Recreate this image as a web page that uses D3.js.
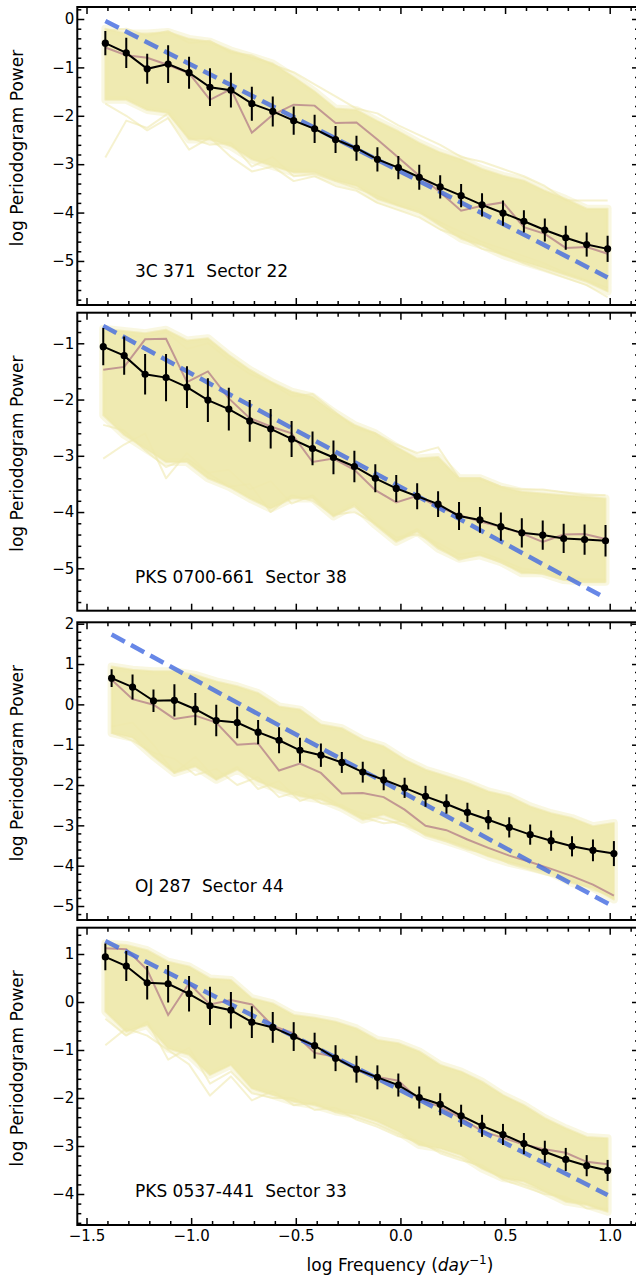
<!DOCTYPE html>
<html>
<head>
<meta charset="utf-8">
<script src="https://cdn.jsdelivr.net/npm/d3@7"></script>
<style>
  body { margin: 0; background: #fff; }
  svg { display: block; }
  text { font-family: "DejaVu Sans", sans-serif; fill: #000; }
</style>
</head>
<body>
<div id="my_dataviz"></div>
<script>
// ---- data ----
const xTicks = [-1.5, -1.0, -0.5, 0.0, 0.5, 1.0];

// 3C 371  Sector 22
const freq1 = [-1.41,-1.31,-1.21,-1.11,-1.01,-0.91,-0.81,-0.71,-0.61,-0.51,-0.41,-0.31,-0.21,-0.11,-0.01,0.09,0.19,0.29,0.39,0.49,0.59,0.69,0.79,0.89,0.99];
const mean1 = [-0.50,-0.70,-1.03,-0.93,-1.11,-1.41,-1.47,-1.75,-1.91,-2.10,-2.27,-2.49,-2.67,-2.90,-3.07,-3.27,-3.47,-3.65,-3.84,-4.01,-4.18,-4.36,-4.52,-4.66,-4.75];
const err1  = [0.25,0.31,0.31,0.39,0.33,0.39,0.36,0.35,0.31,0.29,0.29,0.28,0.26,0.25,0.24,0.26,0.24,0.24,0.24,0.26,0.23,0.24,0.25,0.25,0.27];
const obs1  = [-0.59,-0.75,-0.80,-0.95,-1.12,-1.67,-1.45,-2.35,-1.98,-1.77,-1.79,-2.15,-2.14,-2.49,-2.86,-3.24,-3.58,-3.96,-3.86,-3.79,-4.30,-4.44,-4.73,-4.71,-4.85];
const fit1  = [-0.04, -5.34];
const hi1   = [-0.20,-0.30,-0.30,-0.27,-0.41,-0.47,-0.65,-0.78,-0.92,-1.20,-1.50,-1.85,-1.88,-2.11,-2.32,-2.56,-2.76,-2.90,-3.10,-3.24,-3.34,-3.55,-3.72,-3.92,-3.92];
const lo1   = [-1.67,-1.67,-1.88,-1.94,-2.49,-2.49,-2.63,-2.90,-3.04,-3.17,-3.17,-3.34,-3.45,-3.72,-3.86,-3.99,-4.27,-4.54,-4.68,-4.88,-5.02,-5.15,-5.29,-5.43,-5.63];
const simA1 = [-2.86,-2.10,-2.25,-1.95,-2.45,-2.60,-2.55,-3.05,-2.85,-3.25,-3.20,-3.35,-3.50,-3.65,-3.85,-4.00,-4.20,-4.40,-4.60,-4.75,-4.90,-5.05,-5.25,-5.40,-5.55];
const simB1 = [-1.75,-2.00,-2.30,-2.05,-2.70,-2.45,-2.85,-3.15,-3.05,-3.35,-3.25,-3.45,-3.55,-3.80,-3.95,-4.10,-4.35,-4.50,-4.75,-4.85,-5.05,-5.20,-5.35,-5.50,-5.75];
const simC1 = [-0.25,-0.20,-0.35,-0.25,-0.50,-0.45,-0.70,-0.75,-0.95,-1.10,-1.35,-1.60,-1.85,-1.95,-2.20,-2.40,-2.60,-2.85,-2.95,-3.10,-3.25,-3.45,-3.75,-3.75,-3.75];
const yTicks1 = [0,-1,-2,-3,-4,-5];

// PKS 0700-661  Sector 38
const freq2 = [-1.42,-1.32,-1.22,-1.12,-1.02,-0.92,-0.82,-0.72,-0.62,-0.52,-0.42,-0.32,-0.22,-0.12,-0.02,0.08,0.18,0.28,0.38,0.48,0.58,0.68,0.78,0.88,0.98];
const mean2 = [-1.06,-1.22,-1.55,-1.61,-1.78,-2.01,-2.17,-2.38,-2.52,-2.70,-2.87,-3.03,-3.19,-3.40,-3.58,-3.72,-3.86,-4.07,-4.14,-4.26,-4.37,-4.41,-4.47,-4.49,-4.51];
const err2  = [0.33,0.34,0.36,0.42,0.37,0.39,0.38,0.37,0.35,0.32,0.30,0.30,0.28,0.25,0.24,0.23,0.23,0.25,0.23,0.25,0.26,0.26,0.26,0.27,0.28];
const obs2  = [-1.47,-1.42,-0.93,-0.92,-1.69,-1.50,-1.98,-2.33,-2.48,-2.60,-3.11,-3.05,-3.25,-3.61,-3.83,-3.71,-3.91,-4.05,-4.17,-4.26,-4.38,-4.53,-4.40,-4.39,-4.48];
const fit2  = [-0.69, -5.53];
const hi2   = [-0.74,-0.78,-0.82,-0.76,-0.95,-0.91,-1.21,-1.47,-1.68,-1.86,-1.95,-2.22,-2.45,-2.60,-2.84,-3.05,-3.02,-3.40,-3.40,-3.55,-3.64,-3.67,-3.70,-3.73,-3.76];
const lo2   = [-2.28,-2.63,-2.87,-3.11,-3.11,-3.40,-3.55,-3.76,-3.94,-3.76,-3.76,-4.08,-3.88,-4.23,-4.53,-4.35,-4.65,-4.83,-4.77,-4.89,-5.09,-5.09,-5.21,-5.24,-5.24];
const simA2 = [-3.05,-2.80,-2.60,-3.40,-2.95,-3.30,-3.25,-3.60,-3.45,-3.85,-3.70,-4.05,-3.90,-4.20,-4.50,-4.30,-4.60,-4.85,-4.75,-4.90,-5.05,-5.10,-5.20,-5.25,-5.25];
const simB2 = [-2.45,-2.55,-2.90,-3.20,-3.05,-3.30,-3.55,-3.50,-4.00,-3.70,-3.80,-4.05,-4.00,-4.20,-4.45,-4.40,-4.55,-4.75,-4.70,-4.85,-5.00,-5.05,-5.15,-5.20,-5.20];
const simC2 = [-0.80,-0.85,-0.90,-0.80,-1.10,-1.00,-1.30,-1.55,-1.70,-1.95,-1.90,-2.20,-2.50,-2.60,-2.80,-2.95,-2.85,-3.40,-3.40,-3.55,-3.60,-3.60,-3.65,-3.70,-3.70];
const yTicks2 = [-1,-2,-3,-4,-5];

// OJ 287  Sector 44
const freq3 = [-1.38,-1.28,-1.18,-1.08,-0.98,-0.88,-0.78,-0.68,-0.58,-0.48,-0.38,-0.28,-0.18,-0.08,0.02,0.12,0.22,0.32,0.42,0.52,0.62,0.72,0.82,0.92,1.02];
const mean3 = [0.65,0.43,0.09,0.10,-0.12,-0.40,-0.45,-0.69,-0.89,-1.14,-1.26,-1.44,-1.68,-1.87,-2.07,-2.28,-2.47,-2.68,-2.86,-3.05,-3.23,-3.38,-3.52,-3.62,-3.70];
const err3  = [0.22,0.31,0.28,0.40,0.40,0.39,0.39,0.30,0.32,0.31,0.29,0.26,0.26,0.26,0.25,0.26,0.24,0.24,0.24,0.25,0.25,0.25,0.25,0.27,0.31];
const obs3  = [0.61,0.13,-0.01,-0.36,-0.28,-0.45,-1.00,-0.97,-1.64,-1.47,-1.70,-2.21,-2.20,-2.30,-2.61,-3.01,-3.12,-3.35,-3.56,-3.75,-3.91,-4.08,-4.26,-4.47,-4.74];
const fit3  = [1.73, -5.02];
const hi3   = [0.94,0.86,0.82,0.82,0.73,0.57,0.45,0.28,-0.05,-0.13,-0.50,-0.59,-0.88,-1.04,-1.37,-1.62,-1.78,-1.95,-2.16,-2.28,-2.53,-2.70,-2.82,-3.02,-2.94];
const lo3   = [-0.71,-0.83,-1.29,-1.70,-1.54,-1.87,-1.62,-1.91,-2.11,-2.28,-2.36,-2.57,-2.86,-2.73,-2.94,-3.23,-3.39,-3.56,-3.77,-3.93,-4.05,-4.18,-4.43,-4.55,-4.84];
const simA3 = [-0.55,-0.45,-1.00,-1.70,-1.30,-1.85,-1.55,-2.10,-1.90,-2.40,-2.20,-2.55,-2.70,-2.85,-3.00,-3.20,-3.35,-3.55,-3.75,-3.90,-4.05,-4.20,-4.40,-4.55,-4.80];
const simB3 = [-0.70,-0.90,-1.20,-1.35,-1.75,-1.60,-2.00,-1.80,-2.30,-2.15,-2.45,-2.50,-2.80,-2.95,-2.90,-3.25,-3.40,-3.60,-3.70,-3.95,-4.10,-4.25,-4.35,-4.60,-4.75];
const yTicks3 = [2,1,0,-1,-2,-3,-4,-5];

// PKS 0537-441  Sector 33
const freq4 = [-1.41,-1.31,-1.21,-1.11,-1.01,-0.91,-0.81,-0.71,-0.61,-0.51,-0.41,-0.31,-0.21,-0.11,-0.01,0.09,0.19,0.29,0.39,0.49,0.59,0.69,0.79,0.89,0.99];
const mean4 = [0.94,0.75,0.40,0.38,0.17,-0.08,-0.17,-0.42,-0.53,-0.72,-0.91,-1.17,-1.40,-1.57,-1.73,-1.99,-2.13,-2.37,-2.58,-2.76,-2.95,-3.12,-3.28,-3.41,-3.51];
const err4  = [0.28,0.31,0.35,0.39,0.37,0.40,0.38,0.33,0.32,0.30,0.27,0.27,0.28,0.25,0.24,0.23,0.23,0.23,0.23,0.22,0.22,0.23,0.24,0.22,0.22];
const obs4  = [1.12,1.10,0.67,-0.27,0.39,-0.05,0.04,-0.05,-0.50,-0.65,-1.06,-1.14,-1.42,-1.56,-1.64,-2.04,-2.18,-2.42,-2.69,-2.83,-2.97,-3.07,-3.14,-3.33,-3.38];
const fit4  = [1.27, -4.02];
const hi4   = [1.22,1.19,1.08,0.84,0.74,0.49,0.46,0.08,-0.03,-0.27,-0.33,-0.41,-0.55,-0.79,-0.86,-1.03,-1.31,-1.45,-1.66,-1.94,-2.15,-2.42,-2.63,-2.81,-2.84];
const lo4   = [-0.20,-0.62,-0.48,-0.97,-1.10,-1.52,-1.31,-1.80,-1.94,-2.08,-2.15,-2.28,-2.35,-2.49,-2.70,-2.98,-3.05,-3.19,-3.47,-3.67,-3.74,-3.95,-4.16,-4.23,-4.37];
const simA4 = [-0.90,-0.55,-0.70,-1.00,-1.30,-1.95,-1.55,-2.05,-1.85,-2.15,-2.10,-2.30,-2.40,-2.55,-2.75,-2.95,-3.10,-3.25,-3.45,-3.65,-3.80,-3.95,-4.10,-4.20,-4.35];
const simB4 = [-0.35,-0.70,-0.40,-1.20,-0.95,-1.70,-1.45,-1.90,-2.00,-2.00,-2.25,-2.20,-2.45,-2.60,-2.80,-2.90,-3.15,-3.30,-3.40,-3.70,-3.85,-4.00,-4.05,-4.30,-4.30];
const yTicks4 = [1,0,-1,-2,-3,-4];

// ---- layout ----
const W = 636, H = 1276;
const left = 77.3, right = 639;

const panels = [
  {label: "3C 371  Sector 22", freq: freq1, mean: mean1, err: err1, obs: obs1, fit: fit1, hi: hi1, lo: lo1,
   sims: [simA1, simB1, simC1], ticks: yTicks1, top: 7, bottom: 305, ydom: [-5.91, 0.248]},
  {label: "PKS 0700-661  Sector 38", freq: freq2, mean: mean2, err: err2, obs: obs2, fit: fit2, hi: hi2, lo: lo2,
   sims: [simA2, simB2, simC2], ticks: yTicks2, top: 312.7, bottom: 610.7, ydom: [-5.754, -0.456]},
  {label: "OJ 287  Sector 44", freq: freq3, mean: mean3, err: err3, obs: obs3, fit: fit3, hi: hi3, lo: lo3,
   sims: [simA3, simB3], ticks: yTicks3, top: 622.3, bottom: 920, ydom: [-5.347, 2.035]},
  {label: "PKS 0537-441  Sector 33", freq: freq4, mean: mean4, err: err4, obs: obs4, fit: fit4, hi: hi4, lo: lo4,
   sims: [simA4, simB4], ticks: yTicks4, top: 927.7, bottom: 1225, ydom: [-4.646, 1.548]}
];

const svg = d3.select("#my_dataviz")
  .append("svg")
    .attr("width", W)
    .attr("height", H);

const x = d3.scaleLinear().domain([-1.544, 1.14]).range([left, right]);
const xMinor = d3.range(-15, 12).map(k => k / 10).filter(v => Math.abs(v * 2 - Math.round(v * 2)) > 1e-6);

function minorTicks(dom) {
  const out = [];
  for (let k = Math.ceil(dom[0] * 5); k <= Math.floor(dom[1] * 5); k++) {
    if (k % 5 !== 0) out.push(k / 5);
  }
  return out;
}

panels.forEach(function(p, pi) {
  const y = d3.scaleLinear().domain(p.ydom).range([p.bottom, p.top]);
  const g = svg.append("g");

  const clipId = "clip" + pi;
  g.append("clipPath").attr("id", clipId)
    .append("rect")
      .attr("x", left).attr("y", p.top)
      .attr("width", right - left).attr("height", p.bottom - p.top);

  const plot = g.append("g").attr("clip-path", `url(#${clipId})`);

  const rows = p.freq.map((f, i) => ({f: f, m: p.mean[i], e: p.err[i], o: p.obs[i], hi: p.hi[i], lo: p.lo[i]}));
  const bandArea = d3.area().x(d => x(d.f)).y0(d => y(d.lo)).y1(d => y(d.hi));

  // faint simulated periodograms
  p.sims.forEach(function(s) {
    plot.append("path")
      .datum(s)
      .attr("fill", "none")
      .attr("stroke", "#EEE8AA")
      .attr("stroke-opacity", 0.55)
      .attr("stroke-width", 2)
      .attr("stroke-linejoin", "round")
      .attr("d", d3.line().x((d, i) => x(p.freq[i])).y(d => y(d)));
  });

  // soft fringe round the band
  plot.append("path")
    .datum(rows)
    .attr("fill", "none")
    .attr("stroke", "#EEE8AA")
    .attr("stroke-opacity", 0.35)
    .attr("stroke-width", 8)
    .attr("stroke-linejoin", "round")
    .attr("d", bandArea);

  // dense band of simulated periodograms
  plot.append("path")
    .datum(rows)
    .attr("fill", "#EEE8AA")
    .attr("fill-opacity", 0.92)
    .attr("stroke", "#EEE8AA")
    .attr("stroke-opacity", 0.6)
    .attr("stroke-width", 2)
    .attr("stroke-linejoin", "round")
    .attr("d", bandArea);

  // observed periodogram
  plot.append("path")
    .datum(rows)
    .attr("fill", "none")
    .attr("stroke", "#BC8F8F")
    .attr("stroke-opacity", 0.9)
    .attr("stroke-width", 2)
    .attr("d", d3.line().x(d => x(d.f)).y(d => y(d.o)));

  // power-law fit
  plot.append("line")
    .attr("x1", x(p.freq[0])).attr("y1", y(p.fit[0]))
    .attr("x2", x(p.freq[p.freq.length - 1])).attr("y2", y(p.fit[1]))
    .attr("stroke", "royalblue")
    .attr("stroke-opacity", 0.8)
    .attr("stroke-width", 4.5)
    .attr("stroke-dasharray", "15,7");

  // mean with error bars
  plot.append("g").selectAll("line")
    .data(rows)
    .join("line")
      .attr("x1", d => x(d.f)).attr("x2", d => x(d.f))
      .attr("y1", d => y(d.m - d.e)).attr("y2", d => y(d.m + d.e))
      .attr("stroke", "black")
      .attr("stroke-width", 2);

  plot.append("path")
    .datum(rows)
    .attr("fill", "none")
    .attr("stroke", "black")
    .attr("stroke-width", 2)
    .attr("d", d3.line().x(d => x(d.f)).y(d => y(d.m)));

  plot.append("g").selectAll("circle")
    .data(rows)
    .join("circle")
      .attr("cx", d => x(d.f))
      .attr("cy", d => y(d.m))
      .attr("r", 3.6)
      .attr("fill", "black");

  // axes, ticks pointing inward on all four sides
  const isLast = pi === panels.length - 1;
  const yMinor = minorTicks(p.ydom);

  g.append("g").attr("transform", `translate(${left},0)`)
    .call(d3.axisLeft(y).tickValues(p.ticks).tickFormat(d3.format("d")).tickSizeInner(-7).tickSizeOuter(0).tickPadding(3))
    .call(a => a.selectAll("text").attr("font-size", 15).style("font-family", "DejaVu Sans"));
  g.append("g").attr("transform", `translate(${left},0)`)
    .call(d3.axisLeft(y).tickValues(yMinor).tickFormat("").tickSizeInner(-4).tickSizeOuter(0));
  g.append("g").attr("transform", `translate(${right},0)`)
    .call(d3.axisRight(y).tickValues(p.ticks).tickFormat("").tickSizeInner(-7).tickSizeOuter(0));
  g.append("g").attr("transform", `translate(${right},0)`)
    .call(d3.axisRight(y).tickValues(yMinor).tickFormat("").tickSizeInner(-4).tickSizeOuter(0));

  g.append("g").attr("transform", `translate(0,${p.top})`)
    .call(d3.axisTop(x).tickValues(xTicks).tickFormat("").tickSizeInner(-7).tickSizeOuter(0));
  g.append("g").attr("transform", `translate(0,${p.top})`)
    .call(d3.axisTop(x).tickValues(xMinor).tickFormat("").tickSizeInner(-4).tickSizeOuter(0));
  g.append("g").attr("transform", `translate(0,${p.bottom})`)
    .call(d3.axisBottom(x).tickValues(xTicks).tickFormat(isLast ? d3.format(".1f") : "").tickSizeInner(-7).tickSizeOuter(0).tickPadding(5))
    .call(a => a.selectAll("text").attr("font-size", 15).style("font-family", "DejaVu Sans"));
  g.append("g").attr("transform", `translate(0,${p.bottom})`)
    .call(d3.axisBottom(x).tickValues(xMinor).tickFormat("").tickSizeInner(-4).tickSizeOuter(0));

  g.selectAll(".domain").remove();
  g.selectAll(".tick line").attr("stroke-width", 1.5);

  // frame
  g.append("rect")
    .attr("x", left).attr("y", p.top)
    .attr("width", right - left).attr("height", p.bottom - p.top)
    .attr("fill", "none")
    .attr("stroke", "black")
    .attr("stroke-width", 2);

  // source label
  g.append("text")
    .attr("x", 135)
    .attr("y", p.bottom - 28)
    .attr("font-size", 17)
    .attr("xml:space", "preserve")
    .style("white-space", "pre")
    .text(p.label);

  // y axis title
  g.append("text")
    .attr("transform", `translate(23,${(p.top + p.bottom) / 2 - 8}) rotate(-90)`)
    .attr("text-anchor", "middle")
    .attr("font-size", 17)
    .text("log Periodogram Power");
});

// x axis title
const xt = svg.append("text")
  .attr("x", 400)
  .attr("y", 1271)
  .attr("text-anchor", "middle")
  .attr("font-size", 17);
xt.append("tspan").text("log Frequency (");
xt.append("tspan").attr("font-style", "italic").text("day");
xt.append("tspan").attr("font-size", 12).attr("dy", -7).text("\u22121");
xt.append("tspan").attr("dy", 7).text(")");
</script>
</body>
</html>
